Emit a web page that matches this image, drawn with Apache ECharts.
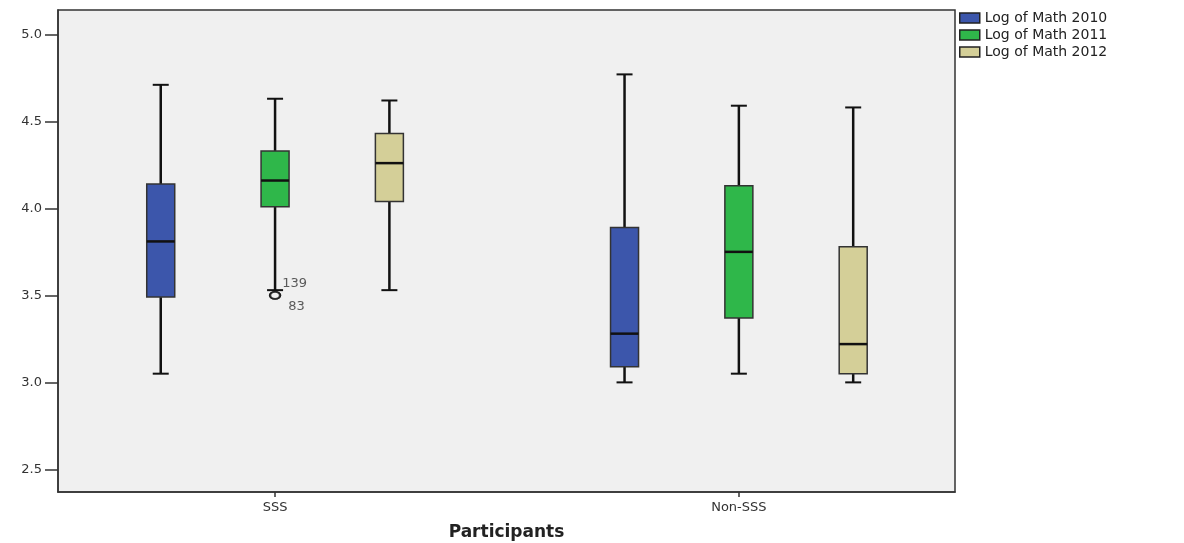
<!DOCTYPE html>
<html>
<head>
<meta charset="utf-8">
<title>Log of Math scores by participant group</title>
<script src="https://cdn.jsdelivr.net/npm/echarts@6/dist/echarts.min.js"></script>
<style>
  html, body { margin: 0; padding: 0; background: #ffffff; }
  #chart { width: 1184px; height: 543px; }
</style>
</head>
<body>
<div id="chart"></div>
<script>
// Participant groups along the x axis
const groups = ['SSS', 'Non-SSS'];
// One box series per year
const yearNames = ['Log of Math 2010', 'Log of Math 2011', 'Log of Math 2012'];
// Five-number summaries per group: [min, Q1, median, Q3, max]
const math2010 = [[3.05, 3.49, 3.81, 4.14, 4.71], [3.00, 3.09, 3.28, 3.89, 4.77]];
const math2011 = [[3.53, 4.01, 4.16, 4.33, 4.63], [3.05, 3.37, 3.75, 4.13, 4.59]];
const math2012 = [[3.53, 4.04, 4.26, 4.43, 4.62], [3.00, 3.05, 3.22, 3.78, 4.58]];
// Flagged outlying cases
const outlierGroup = [0, 0];
const outlierYear = [1, 1];
const outlierValue = [3.50, 3.50];
const outlierCase = ['139', '83'];
// Value-axis ticks
const yTicks = [2.5, 3.0, 3.5, 4.0, 4.5, 5.0];

const boxSeriesData = [math2010, math2011, math2012];
const boxColors = ['#3c56ab', '#2fb74a', '#d4cf98'];
const SLOT = 0.2465;      // spacing between the boxes of one group, in group units
const BOX_W = 28;         // box width in px
const CAP_W = 16;         // whisker cap width in px
const FONT = 'DejaVu Sans';

function renderBox(params, api) {
  const g = api.value(0);
  const lo = api.value(1), q1 = api.value(2), med = api.value(3),
        q3 = api.value(4), hi = api.value(5);
  const unit = api.size([1, 0])[0];
  const cx = api.coord([g, med])[0] + (params.seriesIndex - 1) * SLOT * unit;
  const y = v => api.coord([g, v])[1];
  const line = (x1, y1, x2, y2, w) => ({
    type: 'line',
    shape: { x1, y1, x2, y2 },
    style: { stroke: '#111111', lineWidth: w }
  });
  return {
    type: 'group',
    children: [
      line(cx, y(hi), cx, y(q3), 2.5),
      line(cx, y(q1), cx, y(lo), 2.5),
      line(cx - CAP_W / 2, y(hi), cx + CAP_W / 2, y(hi), 2),
      line(cx - CAP_W / 2, y(lo), cx + CAP_W / 2, y(lo), 2),
      {
        type: 'rect',
        shape: { x: cx - BOX_W / 2, y: y(q3), width: BOX_W, height: y(q1) - y(q3) },
        style: { fill: api.visual('color'), stroke: '#333333', lineWidth: 1.5 }
      },
      line(cx - BOX_W / 2, y(med), cx + BOX_W / 2, y(med), 2.5)
    ]
  };
}

const series = yearNames.map((name, i) => ({
  name,
  type: 'custom',
  renderItem: renderBox,
  itemStyle: { color: boxColors[i] },
  dimensions: ['group', 'min', 'q1', 'median', 'q3', 'max'],
  encode: { x: 0, y: [1, 2, 3, 4, 5] },
  data: boxSeriesData[i].map((d, g) => [g].concat(d)),
  z: 2
}));

series.push({
  name: 'Outliers',
  type: 'scatter',
  symbol: 'circle',
  symbolSize: [10, 7],
  itemStyle: { color: '#f0f0f0', borderColor: '#111111', borderWidth: 2 },
  data: outlierValue.map((v, i) => ({
    value: [outlierGroup[i] + (outlierYear[i] - 1) * SLOT, v],
    label: {
      show: true,
      formatter: outlierCase[i],
      position: 'right',
      offset: i === 0 ? [-4, -12] : [2, 11],
      fontFamily: FONT,
      fontSize: 13,
      color: '#333333'
    }
  })),
  z: 3
});

const chart = echarts.init(document.getElementById('chart'));
chart.setOption({
  animation: false,
  backgroundColor: '#ffffff',
  legend: {
    data: yearNames.map((name, i) => ({
      name,
      itemStyle: { color: boxColors[i], borderColor: '#222222', borderWidth: 1.5 }
    })),
    orient: 'vertical',
    left: 959,
    top: 11,
    icon: 'rect',
    itemWidth: 20,
    itemHeight: 10,
    itemGap: 3,
    padding: 0,
    selectedMode: false,
    textStyle: { fontFamily: FONT, fontSize: 14, color: '#222222', lineHeight: 11 }
  },
  grid: {
    left: 58, right: 229, top: 10, bottom: 51,
    outerBoundsMode: 'none',
    containLabel: false,
    show: true,
    backgroundColor: '#f0f0f0',
    borderColor: '#333333',
    borderWidth: 1.5
  },
  xAxis: {
    type: 'value',
    min: -0.468,
    max: 1.466,
    name: 'Participants',
    nameLocation: 'middle',
    nameGap: 32,
    nameTextStyle: { fontFamily: FONT, fontSize: 17, fontWeight: 'bold', color: '#222222' },
    axisLine: { show: true, onZero: false, lineStyle: { color: '#333333', width: 1.5 } },
    axisTick: { show: true, customValues: [0, 1], length: 5, lineStyle: { color: '#333333', width: 1.5 } },
    axisLabel: {
      customValues: [0, 1],
      formatter: v => groups[Math.round(v)],
      fontFamily: FONT, fontSize: 13, color: '#333333', margin: 9
    },
    splitLine: { show: false }
  },
  yAxis: {
    type: 'value',
    min: 2.37,
    max: 5.14,
    axisLine: { show: true, onZero: false, lineStyle: { color: '#333333', width: 1.5 } },
    axisTick: { show: true, customValues: yTicks, length: 13, lineStyle: { color: '#333333', width: 1.5 } },
    axisLabel: {
      customValues: yTicks,
      formatter: v => v.toFixed(1),
      fontFamily: FONT, fontSize: 13, color: '#333333', margin: 16
    },
    splitLine: { show: false }
  },
  series
});
</script>
</body>
</html>
